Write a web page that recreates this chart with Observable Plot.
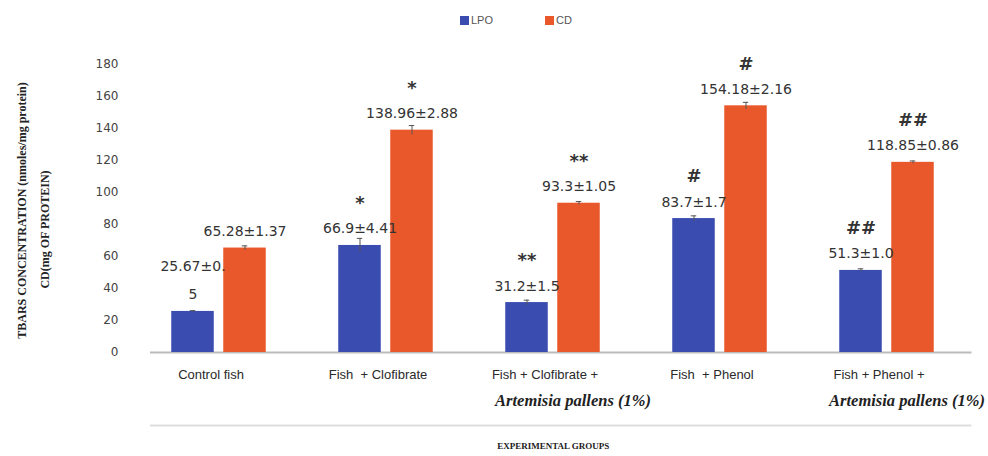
<!DOCTYPE html>
<html>
<head>
<meta charset="utf-8">
<script src="https://cdn.jsdelivr.net/npm/d3@7"></script>
<script src="https://cdn.jsdelivr.net/npm/@observablehq/plot@0.6"></script>
<style>
  html, body { margin: 0; padding: 0; background: #fff; }
  #wrap { position: relative; width: 988px; height: 456px; }
  #legend { position: absolute; top: 14px; left: 460px; display: flex; align-items: center;
            font: 11px "Liberation Sans", Arial, sans-serif; color: #555; }
  #legend .sw { width: 9px; height: 9px; display: inline-block; margin-right: 2px; vertical-align: -1px; }
</style>
</head>
<body>
<div id="wrap">
  <div id="legend">
    <span><span class="sw" style="background:#3a4cb0"></span>LPO</span>
    <span style="margin-left:52px"><span class="sw" style="background:#e9582b"></span>CD</span>
  </div>
</div>
<script>
const groups = ["Control fish", "Fish  + Clofibrate", "Fish + Clofibrate +", "Fish  + Phenol", "Fish + Phenol +"];
const groupLine2 = ["", "", "Artemisia pallens (1%)", "", "Artemisia pallens (1%)"];
const series = ["LPO", "CD"];
const lpo = [25.67, 66.9, 31.2, 83.7, 51.3];
const lpoSD = [0.5, 4.41, 1.5, 1.7, 1.0];
const cd = [65.28, 138.96, 93.3, 154.18, 118.85];
const cdSD = [1.37, 2.88, 1.05, 2.16, 0.86];
const lpoLabels = ["25.67±0.\n5", "66.9±4.41", "31.2±1.5", "83.7±1.7", "51.3±1.0"];
const cdLabels = ["65.28±1.37", "138.96±2.88", "93.3±1.05", "154.18±2.16", "118.85±0.86"];
const sig = ["", "*", "**", "#", "##"];
const yTicks = [0, 20, 40, 60, 80, 100, 120, 140, 160, 180];
const colors = ["#3a4cb0", "#e9582b"];

const lpoData = groups.map((g, i) => ({group: g, value: lpo[i], sd: lpoSD[i], label: lpoLabels[i], sig: sig[i]}));
const cdData = groups.map((g, i) => ({group: g, value: cd[i], sd: cdSD[i], label: cdLabels[i], sig: sig[i]}));
const labelData = groups.map((g, i) => ({group: g, l2: groupLine2[i]}));

const step = 167.5;
const half = step / 2;
const bw = 43;
const off = {LPO: -26, CD: 26};
function insets(o, w) {
  return {insetLeft: half + o - w / 2, insetRight: half - o - w / 2};
}
function errMarks(data, o) {
  return [
    Plot.ruleX(data, {x: "group", y1: d => d.value - d.sd, y2: d => d.value + d.sd, dx: o, stroke: "#555", strokeWidth: 1}),
    Plot.tickY(data, {x: "group", y: d => d.value + d.sd, stroke: "#555", strokeWidth: 1, ...insets(o, 6)})
  ];
}
function textMarks(data, o) {
  return [
    Plot.text(data, {x: "group", y: d => d.value, text: "label", dx: o, dy: -12, lineAnchor: "bottom", lineHeight: 2.0,
      fontFamily: "DejaVu Sans", fontSize: 14, fill: "#333"}),
    Plot.text(data, {x: "group", y: d => d.value, text: "sig", dx: o, dy: -42, lineAnchor: "middle",
      fontFamily: "DejaVu Sans", fontSize: 18, fontWeight: "bold", fill: "#333"})
  ];
}

const chart = Plot.plot({
  width: 988,
  height: 456,
  marginLeft: 134,
  marginRight: 988 - 134 - 5 * step,
  marginTop: 64,
  marginBottom: 104,
  style: {background: "#fff", fontFamily: "DejaVu Sans", fontSize: "12px", color: "#444"},
  x: {domain: groups, padding: 0, axis: null},
  y: {domain: [0, 180], ticks: yTicks, tickSize: 0, tickPadding: 16, label: null},
  marks: [
    Plot.ruleY([0], {stroke: "#bbb", strokeWidth: 2, insetLeft: 16}),
    Plot.barY(lpoData, {x: "group", y: "value", fill: colors[0], ...insets(off.LPO, bw)}),
    Plot.barY(cdData, {x: "group", y: "value", fill: colors[1], ...insets(off.CD, bw)}),
    ...errMarks(lpoData, off.LPO),
    ...errMarks(cdData, off.CD),
    ...textMarks(lpoData, off.LPO),
    ...textMarks(cdData, off.CD),
    Plot.text(labelData, {x: "group", frameAnchor: "bottom", text: "group", dy: 26, dx: -8,
      fontFamily: "Liberation Sans", fontSize: 13, fill: "#2a2a2a"}),
    Plot.text(labelData, {x: "group", frameAnchor: "bottom", text: "l2", dy: 53, dx: 20,
      fontFamily: "Liberation Serif", fontStyle: "italic", fontWeight: "bold", fontSize: 16.5, fill: "#222"}),
    Plot.ruleY([0], {stroke: "#ddd", strokeWidth: 2, dy: 73, insetLeft: 16}),
    Plot.text(["EXPERIMENTAL GROUPS"], {frameAnchor: "bottom", dy: 96, fontFamily: "Liberation Serif",
      fontWeight: "bold", fontSize: 9, fill: "#222"}),
    Plot.text(["TBARS CONCENTRATION (nmoles/mg protein)"], {frameAnchor: "left", textAnchor: "middle", dx: -112, dy: 2, rotate: -90,
      fontFamily: "Liberation Serif", fontWeight: "bold", fontSize: 12, fill: "#222"}),
    Plot.text(["CD(mg OF PROTEIN)"], {frameAnchor: "left", textAnchor: "middle", dx: -89, dy: 21, rotate: -90,
      fontFamily: "Liberation Serif", fontWeight: "bold", fontSize: 12, fill: "#222"})
  ]
});
document.getElementById("wrap").prepend(chart);
</script>
</body>
</html>
